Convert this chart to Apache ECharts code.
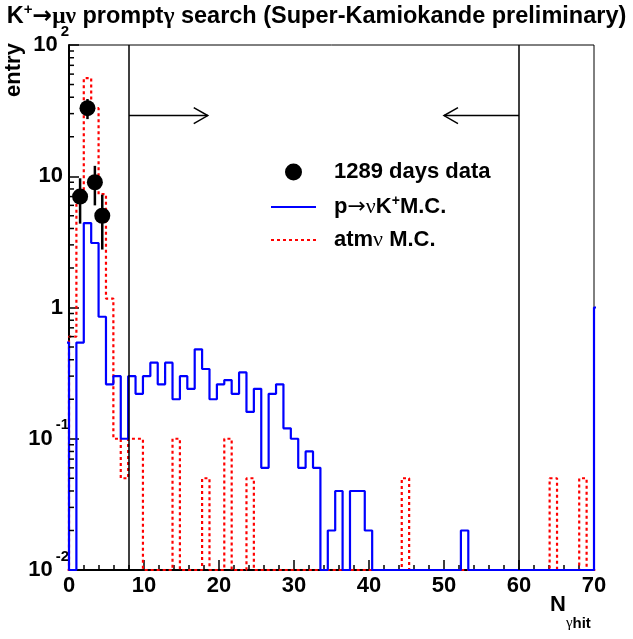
<!DOCTYPE html>
<html>
<head>
<meta charset="utf-8">
<script src="https://cdn.jsdelivr.net/npm/echarts@6/dist/echarts.min.js"></script>
<style>
html, body { margin: 0; padding: 0; background: #fff; }
#chart { width: 633px; height: 639px; }
</style>
</head>
<body>
<div id="chart"></div>
<script>
// N_gamma_hit distribution, 71 bins between 0 and 70
var nBins = 71;
var xMin = 0, xMax = 70;
var binWidth = (xMax - xMin) / nBins;

// p -> nu K+ M.C. (blue), one value per bin
var protonMC = [
  0, 0.54, 4.4, 3.1, 0.85, 0.26, 0.30, 0.10, 0.30, 0.22,
  0.30, 0.38, 0.26, 0.38, 0.20, 0.30, 0.24, 0.48, 0.34, 0.20,
  0.26, 0.28, 0.22, 0.32, 0.16, 0.24, 0.06, 0.22, 0.26, 0.12,
  0.10, 0.06, 0.08, 0.06, 0, 0.02, 0.04, 0, 0.04, 0.04,
  0.02, 0, 0, 0, 0, 0, 0, 0, 0, 0,
  0, 0, 0, 0.02, 0, 0, 0, 0, 0, 0,
  0, 0, 0, 0, 0, 0, 0, 0, 0, 0,
  0
];
// bins just outside the drawn range (clipped by the frame)
var protonUnder = 0.54;
var protonOver = 1.0;

// atm nu M.C. (red dotted)
var atmMC = [
  0.6, 7.0, 56, 33, 7.3, 1.17, 0.10, 0.05, 0.10, 0.10,
  0, 0, 0, 0, 0.10, 0, 0, 0, 0.05, 0,
  0, 0.10, 0, 0, 0.05, 0, 0, 0, 0, 0,
  0, 0, 0, 0, 0, 0, 0, 0, 0, 0,
  0, 0, 0, 0, 0, 0.05, 0, 0, 0, 0,
  0, 0, 0, 0, 0, 0, 0, 0, 0, 0,
  0, 0, 0, 0, 0, 0.05, 0, 0, 0, 0.05,
  0
];
var atmUnder = 0;
var atmOver = 0;

// 1289 days data: bin index and counts
var dataBins = [1, 2, 3, 4];
var dataCounts = [7, 33, 9, 5];

// cut window and arrows
var cutLines = [8, 60];
var arrowFrom = [8, 60];
var arrowTo = [18.5, 50];
var arrowLevel = 29;

var yMin = 0.01, yMax = 100;

var FONT = "'Liberation Sans', Arial, Helvetica, sans-serif";
var SYM = "'Liberation Serif', 'DejaVu Serif', serif";
var ARROW = "'DejaVu Sans', sans-serif";

// histogram outline as step points, empty bins sit on the axis floor
function stepLine(vals, under, over) {
  var all = [under].concat(vals, [over]);
  var pts = [];
  for (var i = 0; i < all.length; i++) {
    var k = i - 1;
    var v = all[i] > yMin ? all[i] : yMin;
    pts.push([xMin + k * binWidth, v]);
    pts.push([xMin + (k + 1) * binWidth, v]);
  }
  return pts;
}

var dataPoints = dataBins.map(function (b, i) {
  return [xMin + (b + 0.5) * binWidth, dataCounts[i]];
});

// minor ticks of the log axis (2..9 in each decade)
var yMinorTicks = [];
for (var d = -2; d < 2; d++) {
  for (var m = 2; m < 10; m++) yMinorTicks.push([xMin, m * Math.pow(10, d)]);
}

var chart = echarts.init(document.getElementById('chart'), null, { renderer: 'canvas' });

var textRich = function (size, supSize, supPad) {
  return {
    b: { fontSize: size, fontWeight: 'bold', fontFamily: FONT, color: '#000' },
    sup: { fontSize: supSize, fontWeight: 'bold', fontFamily: FONT, color: '#000', padding: [0, 0, supPad, 0] },
    g: { fontSize: size, fontFamily: SYM, color: '#000' },
    a: { fontSize: size, fontFamily: ARROW, color: '#000' }
  };
};

var option = {
  animation: false,
  backgroundColor: '#fff',
  title: {
    text: '{b|K}{sup|+}{a|→}{g|μν}{b| prompt}{g|γ}{b| search (Super-Kamiokande preliminary)}',
    left: 'center',
    top: -3,
    textStyle: { rich: textRich(23.5, 15, 14) }
  },
  legend: {
    orient: 'vertical',
    left: 265,
    top: 156,
    itemWidth: 45,
    itemHeight: 17,
    itemGap: 11,
    selectedMode: false,
    data: ['1289 days data', 'p→νK+M.C.', 'atmν M.C.'],
    formatter: function (name) {
      if (name === 'p→νK+M.C.') return '{b|p}{a|→}{g|ν}{b|K}{sup|+}{b|M.C.}';
      if (name === 'atmν M.C.') return '{b|atm}{g|ν}{b| M.C.}';
      return '{b|' + name + '}';
    },
    textStyle: {
      padding: [0, 0, 0, 13],
      rich: textRich(22, 14, 12)
    }
  },
  grid: {
    left: 69, right: 39, top: 45, bottom: 69,
    show: true, borderColor: '#000', borderWidth: 1,
    outerBoundsMode: 'none'
  },
  xAxis: {
    type: 'value',
    min: xMin, max: xMax, interval: 10,
    axisLine: { show: true, onZero: false, lineStyle: { color: '#000', width: 2 } },
    axisTick: { show: true, inside: true, length: 10, lineStyle: { color: '#000', width: 1.5 } },
    minorTick: { show: true, splitNumber: 5, length: 5, lineStyle: { color: '#000', width: 1.5 } },
    axisLabel: { color: '#000', fontSize: 22, fontWeight: 'bold', fontFamily: FONT, margin: 5 },
    splitLine: { show: false }
  },
  yAxis: {
    type: 'log',
    logBase: 10,
    min: yMin, max: yMax,
    axisLine: { show: true, onZero: false, lineStyle: { color: '#000', width: 2 } },
    axisTick: { show: true, inside: true, length: 10, lineStyle: { color: '#000', width: 1.5 } },
    axisLabel: {
      margin: 0,
      formatter: function (v) {
        var e = Math.round(Math.log(v) / Math.LN10);
        if (e === 0) return '{p|1}';
        if (e === 1) return '{p|10}';
        return '{b|10}{e|' + e + '}';
      },
      rich: {
        p: { fontSize: 22, fontWeight: 'bold', fontFamily: FONT, color: '#000', padding: [0, 6, 0, 0] },
        b: { fontSize: 22, fontWeight: 'bold', fontFamily: FONT, color: '#000' },
        e: { fontSize: 15, fontWeight: 'bold', fontFamily: FONT, color: '#000', padding: [0, 0, 27, 3] }
      }
    },
    splitLine: { show: false }
  },
  graphic: [{
    // y axis title
    type: 'text',
    x: 14, y: 70,
    rotation: Math.PI / 2,
    style: {
      text: 'entry',
      font: 'bold 22px ' + FONT,
      fill: '#000',
      align: 'center',
      verticalAlign: 'middle'
    }
  }, {
    // x axis title
    type: 'text',
    x: 550, y: 594,
    style: {
      text: '{n|N}{s|γ}{h|hit}',
      rich: {
        n: { fontSize: 22, fontWeight: 'bold', fontFamily: FONT, fill: '#000', verticalAlign: 'top' },
        s: { fontSize: 15, fontFamily: SYM, fill: '#000', padding: [22, 0, 0, 0] },
        h: { fontSize: 15, fontWeight: 'bold', fontFamily: FONT, fill: '#000', padding: [22, 0, 0, 0] }
      }
    }
  }],
  series: [
    {
      name: 'atmν M.C.',
      type: 'line',
      data: stepLine(atmMC, atmUnder, atmOver),
      symbol: 'none',
      clip: true,
      lineStyle: { color: '#ff0000', width: 2.2, type: [3, 3] },
      itemStyle: { color: '#ff0000', opacity: 0 },
      z: 2
    },
    {
      name: 'p→νK+M.C.',
      type: 'line',
      data: stepLine(protonMC, protonUnder, protonOver),
      symbol: 'none',
      clip: true,
      lineStyle: { color: '#0000ff', width: 2.2 },
      itemStyle: { color: '#0000ff', opacity: 0 },
      z: 3
    },
    {
      // cut lines at 8 and 60
      type: 'custom',
      silent: true,
      data: cutLines.map(function (x) { return [x]; }),
      renderItem: function (params, api) {
        var p1 = api.coord([api.value(0), yMin]);
        var p2 = api.coord([api.value(0), yMax]);
        return { type: 'line', shape: { x1: p1[0], y1: p1[1], x2: p2[0], y2: p2[1] },
                 style: { stroke: '#000', lineWidth: 1.5 } };
      },
      z: 4
    },
    {
      // arrows showing the selected window
      type: 'custom',
      silent: true,
      data: arrowFrom.map(function (x, i) { return [x, arrowTo[i], arrowLevel]; }),
      renderItem: function (params, api) {
        var a = api.coord([api.value(0), api.value(2)]);
        var b = api.coord([api.value(1), api.value(2)]);
        var dir = b[0] > a[0] ? 1 : -1;
        var st = { stroke: '#000', lineWidth: 1.5, fill: null };
        return { type: 'group', children: [
          { type: 'line', shape: { x1: a[0], y1: a[1], x2: b[0], y2: b[1] }, style: st },
          { type: 'polyline', shape: { points: [[b[0] - dir * 14, b[1] - 8], [b[0], b[1]], [b[0] - dir * 14, b[1] + 8]] }, style: st }
        ] };
      },
      z: 4
    },
    {
      // y minor ticks
      type: 'custom',
      silent: true,
      data: yMinorTicks,
      renderItem: function (params, api) {
        var p = api.coord([api.value(0), api.value(1)]);
        return { type: 'line', shape: { x1: p[0], y1: p[1], x2: p[0] + 5, y2: p[1] },
                 style: { stroke: '#000', lineWidth: 1.5 } };
      },
      z: 4
    },
    {
      // sqrt(N) error bars on data
      type: 'custom',
      silent: true,
      data: dataPoints,
      renderItem: function (params, api) {
        var n = api.value(1), e = Math.sqrt(n);
        var p1 = api.coord([api.value(0), n - e]);
        var p2 = api.coord([api.value(0), n + e]);
        return { type: 'line', shape: { x1: p1[0], y1: p1[1], x2: p2[0], y2: p2[1] },
                 style: { stroke: '#000', lineWidth: 2.5 } };
      },
      z: 5
    },
    {
      name: '1289 days data',
      type: 'scatter',
      data: dataPoints,
      symbol: 'circle',
      symbolSize: 16,
      itemStyle: { color: '#000', opacity: 1 },
      z: 6
    }
  ]
};

chart.setOption(option);
</script>
</body>
</html>
